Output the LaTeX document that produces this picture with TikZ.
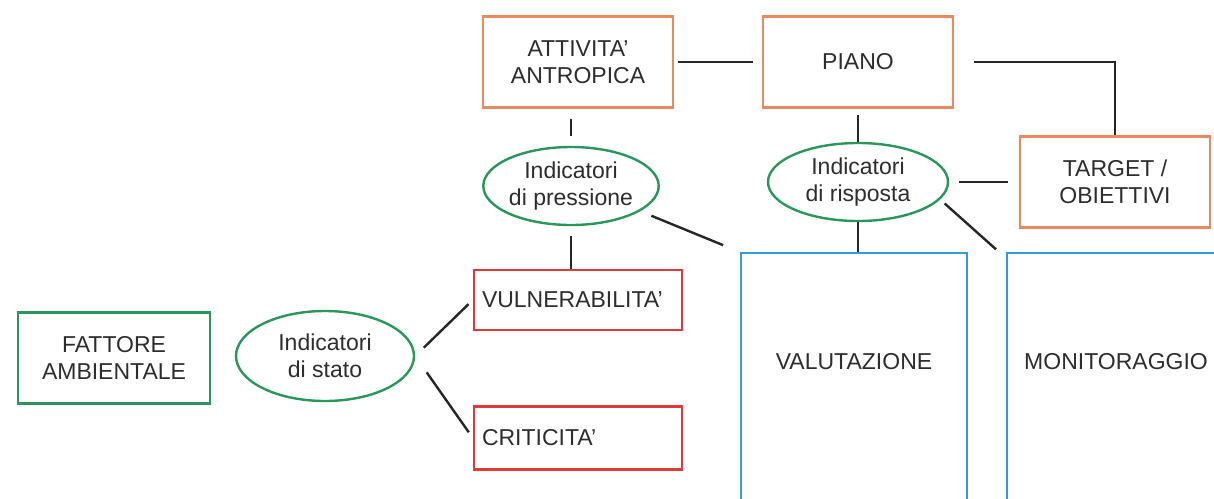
\documentclass[tikz,border=0pt]{standalone}
\usepackage{fontspec}
\setmainfont{Liberation Sans}
\usetikzlibrary{shapes.geometric, calc}

\definecolor{drvorange}{RGB}{231,138,96}
\definecolor{indgreen}{RGB}{42,150,92}
\definecolor{issred}{RGB}{222,58,58}
\definecolor{pnlblue}{RGB}{52,154,218}
\definecolor{txtgray}{RGB}{45,45,45}

\tikzset{
    box/.style={draw, line width=1.2pt, align=center, text=txtgray, font=\fontsize{11.5}{13.5}\selectfont},
    driver/.style={box, draw=drvorange, minimum width=95pt, minimum height=45.5pt},
    factor/.style={box, draw=indgreen, minimum width=96pt, minimum height=45.5pt},
    issue/.style={box, draw=issred, align=left, text width=96pt, inner xsep=4pt, minimum height=30pt},
    panel/.style={draw=pnlblue, line width=1.2pt, minimum width=113pt, minimum height=160pt, anchor=north},
    panel label/.style={text=txtgray, font=\fontsize{11.5}{13.5}\selectfont},
    indicator/.style={ellipse, draw=indgreen, line width=1.2pt, inner sep=0pt, align=center, text=txtgray, font=\fontsize{11.5}{13.5}\selectfont, minimum width=87pt, minimum height=39pt},
    link/.style={line width=1.2pt, black!85}
}

\begin{document}
\begin{tikzpicture}[x=0.5pt, y=-0.5pt]
      \useasboundingbox (0,0) rectangle (1214,498);
      \clip (0,0) rectangle (1214,498);

      % --- Orange boxes ---
      \node (attivita) [driver] at (578,62) {ATTIVITA'\\ANTROPICA};
      \node (piano) [driver] at (858,62) {PIANO};
      \node (target) [driver] at (1115,182) {TARGET /\\OBIETTIVI};

      % --- Indicators ---
      \node (pressione) [indicator] at (571,186) {Indicatori\\di pressione};
      \node (risposta) [indicator, minimum width=90pt] at (858,182) {Indicatori\\di risposta};
      \node (stato) [indicator, minimum width=89pt, minimum height=45pt] at (325,356) {Indicatori\\di stato};

      % --- State side ---
      \node (fattore) [factor] at (114,358) {FATTORE\\AMBIENTALE};
      \node (vuln) [issue] at (578,300) {VULNERABILITA'};
      \node (crit) [issue, minimum height=31.5pt] at (578,438) {CRITICITA'};

      % --- Large panels ---
      \node (valut) [panel] at (854,252) {};
      \node[panel label] at ($(valut.north)+(0,110)$) {VALUTAZIONE};
      \node (monit) [panel, minimum width=120pt, anchor=north west] at (1006,252) {};
      \node[panel label] at ($(monit.north west)+(110,110)$) {MONITORAGGIO};

      % --- Links ---
      \draw[link, shorten <=2pt, shorten >=4.5pt] (attivita.east) -- (piano.west);
      \draw[link, shorten <=10pt] (piano.east) -| (target.north);
      \draw[link, shorten <=3pt] (piano.south) -- (risposta.north);
      \draw[link, shorten <=5pt, shorten >=5.5pt] (risposta.east) -- (target.west);
      \draw[link] (risposta.south) -- (risposta.south |- valut.north);
      \draw[link, shorten <=3pt, shorten >=2pt] (risposta.-12) -- ([xshift=-3.5pt]monit.north west);
      \draw[link, shorten <=5pt, shorten >=5pt] (pressione.north |- attivita.south) -- (pressione.north);
      \draw[link, shorten <=5pt] (pressione.south) -- (pressione.south |- vuln.north);
      \draw[link, shorten <=6pt, shorten >=9pt] (pressione.-20) -- (valut.north west);
      \draw[link, shorten <=6pt, shorten >=3pt] (stato.east) -- (vuln.west);
      \draw[link, shorten <=10pt, shorten >=3.5pt] (stato.east) -- (crit.west);
  \end{tikzpicture}
\end{document}
